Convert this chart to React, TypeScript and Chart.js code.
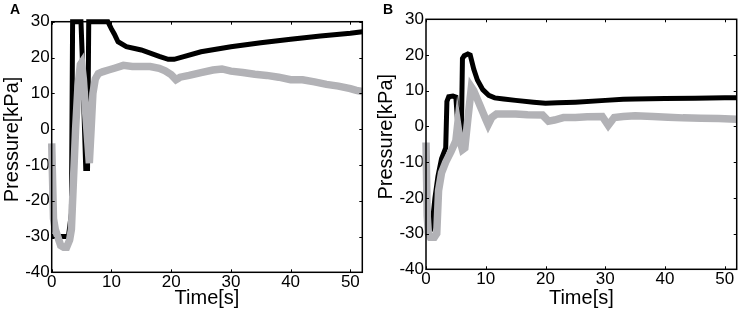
import React, { useEffect, useRef } from "react";
import { Chart, registerables } from "chart.js";

Chart.register(...registerables);

// ---------- DATA ----------
const xTickValues = [0, 10, 20, 30, 40, 50];
const yTickValues = [-40, -30, -20, -10, 0, 10, 20, 30];

// Panel A – black trace
const timeA_black = [0, 1, 2, 2.8, 3.3, 3.5, 4.0, 4.9, 5.1, 5.7, 6.0, 6.2, 7, 8, 9.4, 10.0, 10.5, 11.1, 12.5, 15, 18, 19.5, 20.5, 25, 30, 35, 40, 45, 50, 52];
const pressA_black = [-30, -30, -30, -30, -23.5, 30, 30, 30, 21, -11, -11, 30, 30, 30, 30, 28, 26.5, 24.4, 23.0, 22.1, 20.3, 19.5, 19.5, 21.6, 23, 24.1, 25.1, 26, 26.8, 27.2];

// Panel A – grey trace
const timeA_grey = [0, 0.3, 0.6, 1.0, 1.5, 2.0, 2.5, 3.0, 3.3, 3.6, 4.0, 4.4, 4.8, 5.0, 5.3, 5.8, 6.3, 6.6, 6.9, 7.3, 7.8, 8.5, 9.5, 10.5, 12, 13.5, 15, 16.5, 18, 19, 20, 20.8, 21.5, 23, 25, 27, 28.5, 30, 32, 34, 36, 38, 40, 42, 44, 46, 48, 50, 51, 52];
const pressA_grey = [-4, -25, -28, -30, -32.5, -33, -33, -31, -28, -16, 0, 12, 18, 18.5, 14, 2, -9.5, 0, 10, 14, 15.5, 16, 16.5, 17, 17.8, 17.5, 17.5, 17.5, 17, 16.3, 15.2, 13.8, 14.5, 15, 15.8, 16.5, 16.8, 16.2, 15.8, 15.3, 15, 14.5, 13.8, 13.8, 13.2, 12.5, 12, 11.3, 10.8, 10.5];

// Panel B – black trace
const timeB_black = [0, 0.5, 1.0, 1.5, 2.0, 2.6, 3.3, 3.5, 3.8, 4.5, 5.0, 5.3, 5.6, 5.9, 6.1, 6.4, 7.0, 7.4, 8.0, 8.6, 9.5, 10.5, 11.5, 13, 15, 18, 20, 22, 25, 30, 33, 35, 40, 45, 50, 52];
const pressB_black = [-30, -30, -28, -20, -14, -9, -6, 7, 8.3, 8.5, 8.2, 1, 2, -3.5, 19, 19.8, 20.3, 20, 16, 13, 10.3, 8.7, 8, 7.7, 7.3, 6.8, 6.5, 6.6, 6.8, 7.3, 7.6, 7.7, 7.8, 7.9, 8, 8];

// Panel B – grey trace
const timeB_grey = [0, 0.2, 0.4, 0.7, 1.0, 1.4, 1.8, 2.1, 2.6, 3.3, 4.2, 5.0, 5.3, 5.7, 6.1, 6.5, 7.0, 7.6, 8.0, 8.5, 9.0, 9.5, 10.0, 10.4, 11.0, 11.8, 13, 15, 17, 19.5, 20.5, 21.5, 23, 25, 27, 29.5, 30.5, 31.5, 33, 35, 38, 40.5, 43, 46, 49, 52];
const pressB_grey = [-4.5, -25, -30, -31, -31, -31, -30, -18, -13, -10, -7, -4, 0.5, -4, -6.5, -6, 2, 11, 10, 8, 6, 4, 2, 0.5, 2.5, 3.5, 3.5, 3.5, 3.3, 3.2, 1.5, 1.8, 2.5, 2.5, 2.7, 2.8, 0.3, 2.5, 2.8, 3, 2.8, 2.6, 2.4, 2.3, 2.2, 2];

// ---------- STYLE ----------
const FONT = "'Liberation Sans', Arial, Helvetica, sans-serif";
const GREY = "#b2b2b6";
const BLACK = "#000000";

const toPts = (t: number[], p: number[]) => t.map((x, i) => ({ x, y: p[i] }));

const framePlugin = {
  id: "frame",
  afterDatasetsDraw(chart: any) {
    const { ctx, chartArea } = chart;
    const { left, right, top, bottom } = chartArea;
    const xs = chart.scales.x;
    const ys = chart.scales.y;
    ctx.save();
    ctx.strokeStyle = "#000";
    ctx.lineWidth = 1;
    const tl = 3;
    ctx.beginPath();
    xs.ticks.forEach((t: any) => {
      const px = Math.round(xs.getPixelForValue(t.value)) + 0.5;
      ctx.moveTo(px, bottom);
      ctx.lineTo(px, bottom - tl);
      ctx.moveTo(px, top);
      ctx.lineTo(px, top + tl);
    });
    ys.ticks.forEach((t: any) => {
      const py = Math.round(ys.getPixelForValue(t.value)) + 0.5;
      ctx.moveTo(left, py);
      ctx.lineTo(left + tl, py);
      ctx.moveTo(right, py);
      ctx.lineTo(right - tl, py);
    });
    ctx.stroke();
    ctx.lineWidth = 1.5;
    ctx.strokeRect(left, top, right - left, bottom - top);
    ctx.restore();
  },
};

type PanelProps = {
  left: number;
  width: number;
  padLeft: number;
  padTop: number;
  padRight: number;
  yWidth: number;
  xHeight: number;
  black: { x: number; y: number }[];
  grey: { x: number; y: number }[];
  letter: string;
  letterLeft: number;
};

function Panel(props: PanelProps) {
  const ref = useRef<HTMLCanvasElement | null>(null);
  useEffect(() => {
    if (!ref.current) return;
    const chart = new Chart(ref.current, {
      type: "line",
      data: {
        datasets: [
          {
            data: props.grey,
            borderColor: GREY,
            borderWidth: 7.5,
            pointRadius: 0,
            tension: 0,
            clip: 4,
          },
          {
            data: props.black,
            borderColor: BLACK,
            borderWidth: 5,
            pointRadius: 0,
            tension: 0,
            clip: 4,
          },
        ],
      },
      options: {
        animation: false,
        responsive: false,
        devicePixelRatio: 1,
        layout: {
          padding: { left: props.padLeft, top: props.padTop, right: props.padRight, bottom: 0 },
        },
        plugins: { legend: { display: false }, tooltip: { enabled: false } },
        scales: {
          x: {
            type: "linear",
            min: 0,
            max: 52,
            afterBuildTicks: (s: any) => {
              s.ticks = xTickValues.map((v) => ({ value: v }));
            },
            afterFit: (s: any) => {
              s.height = props.xHeight;
            },
            grid: { display: false, drawTicks: false },
            border: { display: false },
            ticks: {
              padding: 0,
              color: "#000",
              font: { family: FONT, size: 17 },
              maxRotation: 0,
              autoSkip: false,
            },
            title: {
              display: true,
              text: "Time[s]",
              color: "#000",
              font: { family: FONT, size: 20 },
              padding: { top: 0, bottom: 5 },
            },
          },
          y: {
            type: "linear",
            min: -40,
            max: 30,
            afterBuildTicks: (s: any) => {
              s.ticks = yTickValues.map((v) => ({ value: v }));
            },
            afterFit: (s: any) => {
              s.width = props.yWidth;
            },
            grid: { display: false, drawTicks: false },
            border: { display: false },
            ticks: {
              padding: 2,
              color: "#000",
              font: { family: FONT, size: 17 },
              autoSkip: false,
            },
            title: {
              display: true,
              text: "  \u2009Pressure[kPa]",
              color: "#000",
              font: { family: FONT, size: 20 },
              padding: { top: 0, bottom: 0 },
            },
          },
        },
      },
      plugins: [framePlugin],
    } as any);
    return () => chart.destroy();
  }, []);
  return (
    <div style={{ position: "absolute", left: props.left, top: 0, width: props.width, height: 315 }}>
      <canvas ref={ref} width={props.width} height={315} style={{ width: props.width, height: 315, display: "block" }} />
      <div
        style={{
          position: "absolute",
          left: props.letterLeft,
          top: 1,
          fontFamily: FONT,
          fontWeight: "bold",
          fontSize: 14,
          lineHeight: "16px",
        }}
      >
        {props.letter}
      </div>
    </div>
  );
}

export default function App() {
  return (
    <div style={{ position: "fixed", left: 0, top: 0, width: 743, height: 315, background: "#fff" }}>
      <Panel
        left={0}
        width={372}
        padLeft={0.5}
        padTop={21.7}
        padRight={9.7}
        yWidth={51.2}
        xHeight={42.7}
        black={toPts(timeA_black, pressA_black)}
        grey={toPts(timeA_grey, pressA_grey)}
        letter="A"
        letterLeft={10}
      />
      <Panel
        left={372}
        width={371}
        padLeft={2}
        padTop={19.3}
        padRight={6.3}
        yWidth={52}
        xHeight={45.7}
        black={toPts(timeB_black, pressB_black)}
        grey={toPts(timeB_grey, pressB_grey)}
        letter="B"
        letterLeft={11}
      />
    </div>
  );
}
